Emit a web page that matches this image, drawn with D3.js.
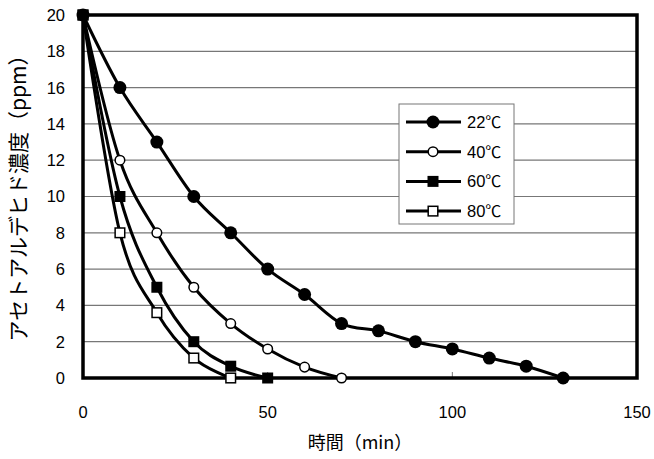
<!DOCTYPE html>
<html><head><meta charset="utf-8">
<script src="https://cdn.jsdelivr.net/npm/d3@7"></script>
<style>body{margin:0;background:#fff}svg{display:block}</style>
</head><body>
<svg id="c" width="654" height="459"></svg>
<script>
const times = [0,10,20,30,40,50,60,70,80,90,100,110,120,130];
const s22 = [20,16,13,10,8,6,4.6,3,2.6,2.0,1.6,1.1,0.65,0];
const s40 = [20,12,8,5,3,1.6,0.6,0];
const s60 = [20,10,5,2,0.65,0];
const s80 = [20,8,3.6,1.1,0];
const seriesTemps = ["22","40","60","80"];
const seriesUnit = "℃";
const markers = ["circleFilled","circleOpen","squareFilled","squareOpen"];
const xTicks = [0,50,100,150];
const yTicks = [0,2,4,6,8,10,12,14,16,18,20];
const xTitle = "時間（min）";
const yTitle = "アセトアルデヒド濃度（ppm）";

const svg = d3.select("#c");
const L=83,R=637,T=15,B=378;
const x = d3.scaleLinear().domain([0,150]).range([L,R]);
const y = d3.scaleLinear().domain([0,20]).range([B,T]);
const numFont = "'Liberation Sans', Arial, sans-serif";
const jpFont = "'Noto Sans CJK JP', sans-serif";

// gridlines
svg.append("g").selectAll("line").data(yTicks.filter(d=>d>0&&d<20)).join("line")
  .attr("x1",L).attr("x2",R).attr("y1",d=>y(d)).attr("y2",d=>y(d))
  .attr("stroke","#777").attr("stroke-width",1.2);

// x inner ticks
svg.append("g").selectAll("line").data(xTicks.filter(d=>d>0&&d<150)).join("line")
  .attr("x1",d=>x(d)).attr("x2",d=>x(d)).attr("y1",B).attr("y2",B-6)
  .attr("stroke","#777").attr("stroke-width",1);

// tick labels
svg.append("g").selectAll("text").data(yTicks).join("text")
  .attr("x",65).attr("y",d=>y(d)).attr("dy","0.36em").attr("text-anchor","end")
  .attr("font-family",numFont).attr("font-size",16.5).text(d=>d);
svg.append("g").selectAll("text").data(xTicks).join("text")
  .attr("x",d=>x(d)).attr("y",418).attr("text-anchor","middle")
  .attr("font-family",numFont).attr("font-size",16.5).text(d=>d);

// titles
svg.append("text").attr("x",(L+R)/2).attr("y",449).attr("text-anchor","middle")
  .attr("font-family",jpFont).attr("font-size",18).text(xTitle);
svg.append("text").attr("transform","translate(26,193) rotate(-90)")
  .attr("text-anchor","middle").attr("font-family",jpFont).attr("font-size",21).text(yTitle);

const data = [s22,s40,s60,s80].map((vals,i)=>({name:seriesTemps[i],marker:markers[i],pts:vals.map((v,j)=>[times[j],v])}));
const line = d3.line().x(d=>x(d[0])).y(d=>y(d[1])).curve(d3.curveCardinal.tension(0));

const plot = svg.append("g");
data.forEach(s=>{
  plot.append("path").attr("d",line(s.pts)).attr("fill","none").attr("stroke","#000").attr("stroke-width",3);
});

// frame
svg.append("rect").attr("x",L).attr("y",T).attr("width",R-L).attr("height",B-T)
  .attr("fill","none").attr("stroke","#000").attr("stroke-width",3.5);

function drawMarker(g,type,cx,cy){
  if(type==="circleFilled") g.append("circle").attr("cx",cx).attr("cy",cy).attr("r",6.5).attr("fill","#000");
  else if(type==="circleOpen") g.append("circle").attr("cx",cx).attr("cy",cy).attr("r",4.8).attr("fill","#fff").attr("stroke","#000").attr("stroke-width",1.5);
  else if(type==="squareFilled") g.append("rect").attr("x",cx-5.5).attr("y",cy-5.5).attr("width",11).attr("height",11).attr("fill","#000");
  else g.append("rect").attr("x",cx-4.8).attr("y",cy-4.8).attr("width",9.6).attr("height",9.6).attr("fill","#fff").attr("stroke","#000").attr("stroke-width",1.5);
}
data.slice().reverse().forEach(s=>{
  const g = svg.append("g");
  s.pts.forEach(p=>drawMarker(g,s.marker,x(p[0]),y(p[1])));
});

// legend
const lg = svg.append("g");
lg.append("rect").attr("x",399).attr("y",104).attr("width",115).attr("height",120)
  .attr("fill","#fff").attr("stroke","#777").attr("stroke-width",1);
data.forEach((s,i)=>{
  const cy = 122 + i*29.7;
  lg.append("line").attr("x1",406).attr("x2",461).attr("y1",cy).attr("y2",cy).attr("stroke","#000").attr("stroke-width",3);
  drawMarker(lg,s.marker,433,cy);
  const t = lg.append("text").attr("x",467).attr("y",cy).attr("dy","0.36em")
    .attr("font-family",numFont).attr("font-size",16.5);
  t.append("tspan").text(s.name);
  t.append("tspan").attr("font-family",jpFont).attr("font-size",16).text(seriesUnit);
});
</script>
</body></html>
